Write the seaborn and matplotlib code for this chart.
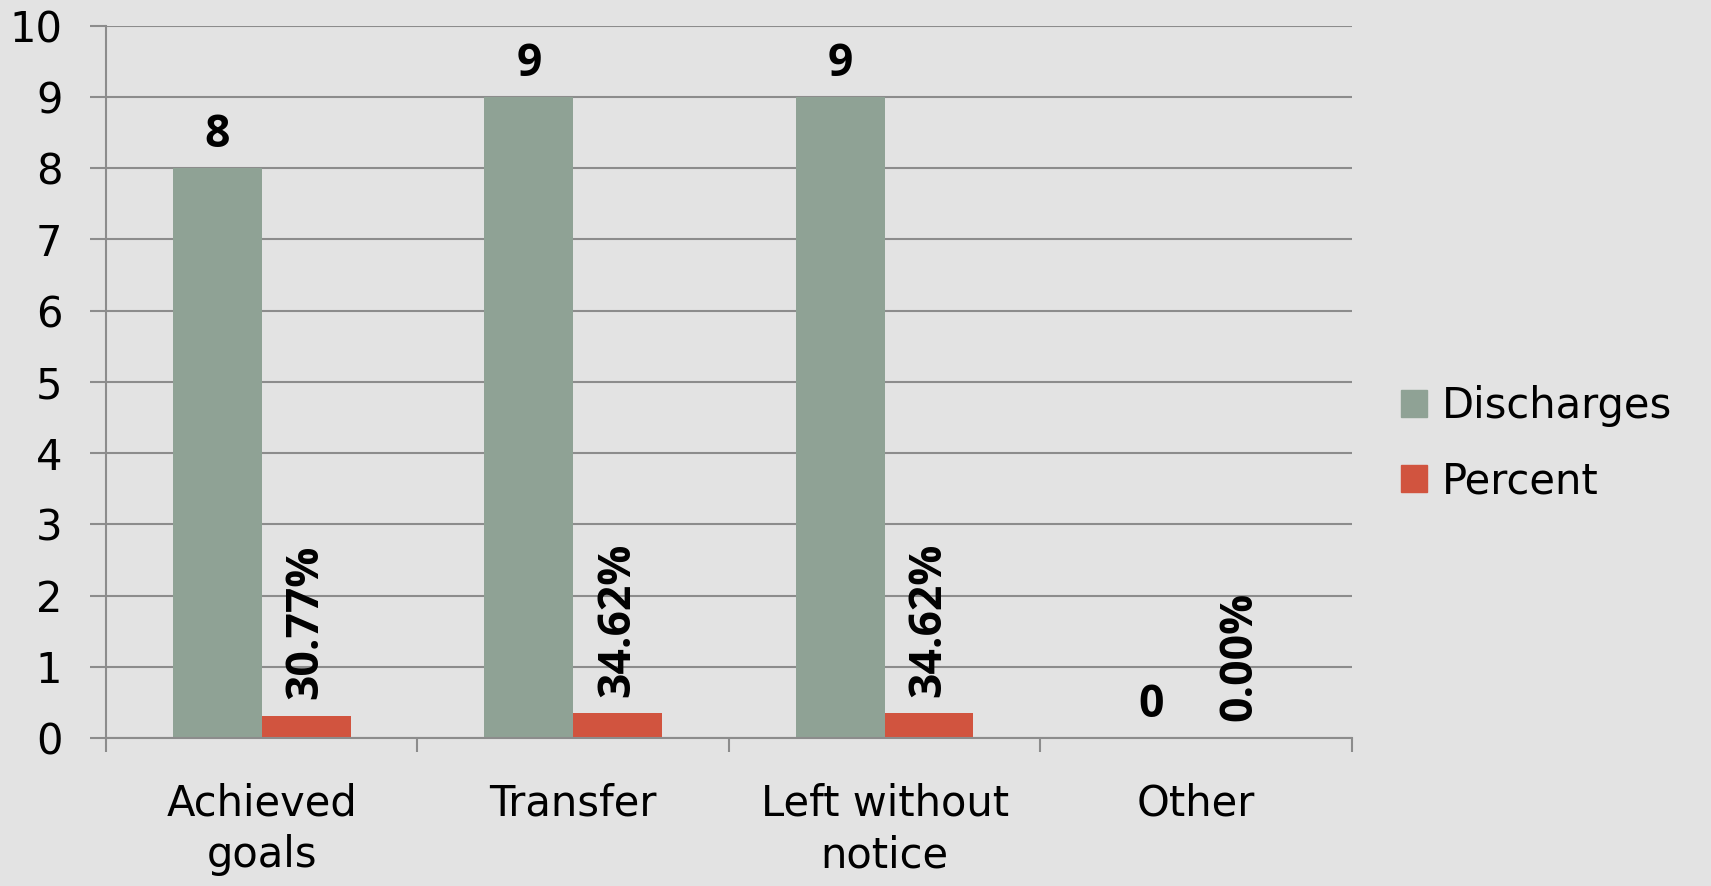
import pandas as pd
import matplotlib.pyplot as plt
import seaborn as sns
import numpy as np

# --- data ---
categories = ["Achieved\ngoals", "Transfer", "Left without\nnotice", "Other"]
discharges = [8, 9, 9, 0]
percent = [0.3077, 0.3462, 0.3462, 0.0]
percent_labels = ["30.77%", "34.62%", "34.62%", "0.00%"]
series = ["Discharges", "Percent"]
colors = ["#8FA295", "#D1543F"]

df = pd.DataFrame({
    "category": categories * 2,
    "series": [series[0]] * 4 + [series[1]] * 4,
    "value": discharges + percent,
})

sns.set_theme(style="white")
plt.rcParams["font.family"] = ["DejaVu Sans"]
plt.rcParams["text.color"] = "black"
plt.rcParams["xtick.labelcolor"] = "black"
plt.rcParams["ytick.labelcolor"] = "black"

bg = "#E3E3E3"
grid_c = "#8C8C8C"
label_font = ["Open Sans", "DejaVu Sans"]

fig = plt.figure(figsize=(17.11, 8.86), dpi=100, facecolor=bg)
ax = fig.add_axes([0.062, 0.167, 0.728, 0.804])
ax.set_facecolor(bg)

sns.barplot(data=df, x="category", y="value", hue="series", order=categories,
            hue_order=series, palette=colors, width=0.57, gap=0,
            saturation=1, linewidth=0, legend=False, ax=ax)

ax.set_ylim(0, 10)
ax.set_xlim(-0.5, 3.5)
ax.set_yticks(range(0, 11))
ax.yaxis.grid(True, color=grid_c, linewidth=1.5)
ax.set_axisbelow(True)
ax.tick_params(axis="y", left=True, length=11.5, width=1.5, color=grid_c, pad=20,
               labelsize=30, labelcolor="black")
ax.tick_params(axis="x", which="major", bottom=True, length=0, pad=32, labelsize=30,
               labelcolor="black")
ax.set_xticks(np.arange(-0.5, 4, 1), minor=True)
ax.tick_params(axis="x", which="minor", bottom=True, length=10, width=1.5, color=grid_c)
for t in ax.get_xticklabels():
    t.set_linespacing(1.3)
for s in ["top", "right"]:
    ax.spines[s].set_visible(False)
for s in ["left", "bottom"]:
    ax.spines[s].set_color(grid_c)
    ax.spines[s].set_linewidth(1.5)
ax.set_xlabel("")
ax.set_ylabel("")

# data labels
bar_groups = ax.containers
for rect, v in zip(bar_groups[0], discharges):
    ax.annotate(str(v), (rect.get_x() + rect.get_width() / 2, v),
                xytext=(0, 7), textcoords="offset points", ha="center", va="bottom",
                fontsize=32, fontweight="bold", family=label_font, color="black")
for rect, v, lab in zip(bar_groups[1], percent, percent_labels):
    ax.annotate(lab, (rect.get_x() + rect.get_width() / 2, v),
                xytext=(0, 12), textcoords="offset points", ha="center", va="bottom",
                rotation=90, fontsize=32, fontweight="bold", family=label_font,
                color="black")

handles = [plt.Rectangle((0, 0), 1, 1, color=c) for c in colors]
leg = fig.legend(handles, series, loc="center left", bbox_to_anchor=(0.819, 0.4994),
                 frameon=False, fontsize=30, handlelength=0.62, handleheight=0.62,
                 handletextpad=0.36, labelspacing=0.8, borderpad=0, borderaxespad=0)
for t in leg.get_texts():
    t.set_color("black")

fig.savefig("out.png", dpi=100, facecolor=bg)
